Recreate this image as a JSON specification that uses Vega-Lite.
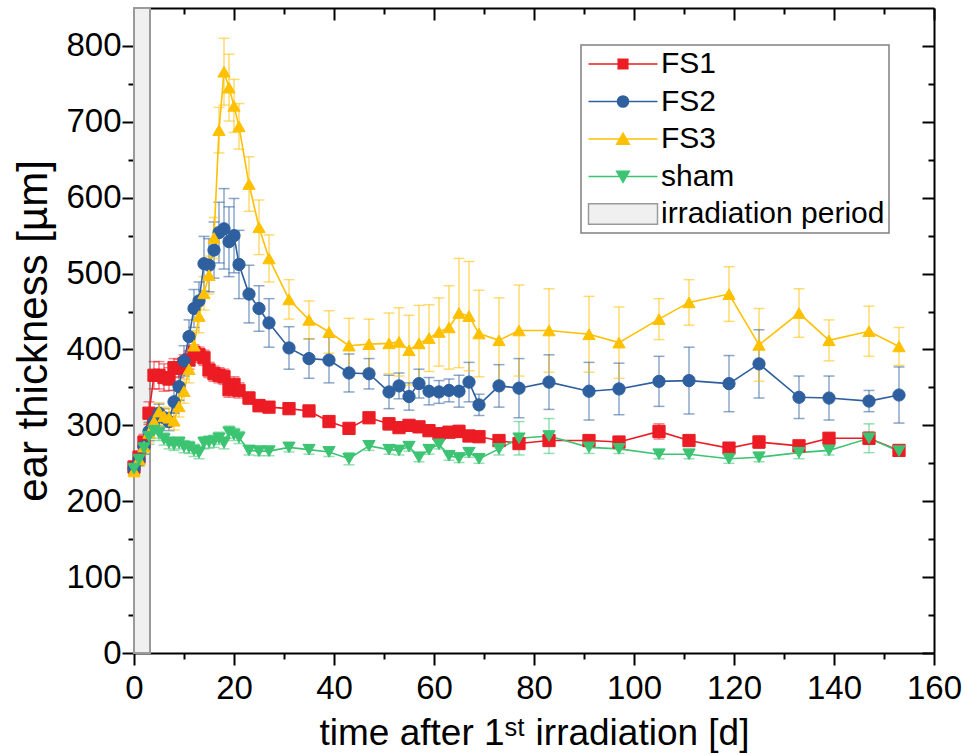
{
  "$schema": "https://vega.github.io/schema/vega-lite/v6.json",
  "autosize": {"type": "none"},
  "width": 800,
  "height": 645,
  "padding": {"left": 134, "top": 8, "right": 31, "bottom": 102},
  "background": "white",
  "config": {
    "view": {"stroke": null},
    "axis": {"domainColor": "black", "domainWidth": 2, "tickColor": "black", "tickWidth": 2, "grid": false,
      "labelFont": "Liberation Sans", "labelFontSize": 33, "labelColor": "black",
      "titleFont": "Liberation Sans", "titleFontSize": 37, "titleFontWeight": "normal", "titleColor": "black"},
    "legend": {"title": null, "orient": "none", "legendX": 447, "legendY": 37, "padding": 4,
      "strokeColor": "#808080", "fillColor": "white",
      "labelFont": "Liberation Sans", "labelFontSize": 30, "labelColor": "black", "labelLimit": 0, "labelOffset": 46,
      "symbolSize": 529, "symbolStrokeWidth": 1.5, "rowPadding": 7.5}
  },
  "datasets": {
    "ear": [
      {"s":"FS1","d":0,"m":245,"lo":237,"hi":253},{"s":"FS1","d":1,"m":258,"lo":250,"hi":266},{"s":"FS1","d":2,"m":278,"lo":268,"hi":288},{"s":"FS1","d":3,"m":316,"lo":301,"hi":331},{"s":"FS1","d":4,"m":366,"lo":348,"hi":384},{"s":"FS1","d":5,"m":366,"lo":348,"hi":384},{"s":"FS1","d":6,"m":363,"lo":345,"hi":381},{"s":"FS1","d":7,"m":361,"lo":346,"hi":376},{"s":"FS1","d":8,"m":376,"lo":364,"hi":388},{"s":"FS1","d":9,"m":375,"lo":363,"hi":387},{"s":"FS1","d":10,"m":381,"lo":369,"hi":393},{"s":"FS1","d":11,"m":386,"lo":374,"hi":398},{"s":"FS1","d":12,"m":396,"lo":386,"hi":406},{"s":"FS1","d":13,"m":393,"lo":383,"hi":403},{"s":"FS1","d":14,"m":389,"lo":379,"hi":399},{"s":"FS1","d":15,"m":373,"lo":363,"hi":383},{"s":"FS1","d":16,"m":368,"lo":358,"hi":378},{"s":"FS1","d":17,"m":366,"lo":356,"hi":376},{"s":"FS1","d":18,"m":364,"lo":354,"hi":374},{"s":"FS1","d":19,"m":347,"lo":337,"hi":357},{"s":"FS1","d":20,"m":354,"lo":344,"hi":364},{"s":"FS1","d":21,"m":346,"lo":336,"hi":356},{"s":"FS1","d":23,"m":336,"lo":328,"hi":344},{"s":"FS1","d":25,"m":326,"lo":318,"hi":334},{"s":"FS1","d":27,"m":324,"lo":318,"hi":330},{"s":"FS1","d":31,"m":322,"lo":316,"hi":328},{"s":"FS1","d":35,"m":319,"lo":313,"hi":325},{"s":"FS1","d":39,"m":305,"lo":299,"hi":311},{"s":"FS1","d":43,"m":296,"lo":290,"hi":302},{"s":"FS1","d":47,"m":310,"lo":304,"hi":316},{"s":"FS1","d":51,"m":302,"lo":294,"hi":310},{"s":"FS1","d":53,"m":297,"lo":291,"hi":303},{"s":"FS1","d":55,"m":300,"lo":294,"hi":306},{"s":"FS1","d":57,"m":298,"lo":292,"hi":304},{"s":"FS1","d":59,"m":293,"lo":287,"hi":299},{"s":"FS1","d":61,"m":289,"lo":283,"hi":295},{"s":"FS1","d":63,"m":291,"lo":285,"hi":297},{"s":"FS1","d":65,"m":292,"lo":284,"hi":300},{"s":"FS1","d":67,"m":286,"lo":280,"hi":292},{"s":"FS1","d":69,"m":285,"lo":279,"hi":291},{"s":"FS1","d":73,"m":280,"lo":274,"hi":286},{"s":"FS1","d":77,"m":276,"lo":270,"hi":282},{"s":"FS1","d":83,"m":280,"lo":274,"hi":286},{"s":"FS1","d":91,"m":280,"lo":274,"hi":286},{"s":"FS1","d":97,"m":278,"lo":272,"hi":284},{"s":"FS1","d":105,"m":292,"lo":282,"hi":302},{"s":"FS1","d":111,"m":280,"lo":274,"hi":286},{"s":"FS1","d":119,"m":270,"lo":264,"hi":276},{"s":"FS1","d":125,"m":278,"lo":270,"hi":286},{"s":"FS1","d":133,"m":273,"lo":267,"hi":279},{"s":"FS1","d":139,"m":283,"lo":277,"hi":289},{"s":"FS1","d":147,"m":283,"lo":275,"hi":291},{"s":"FS1","d":153,"m":267,"lo":261,"hi":273},
      {"s":"FS2","d":0,"m":243,"lo":235,"hi":251},{"s":"FS2","d":1,"m":255,"lo":247,"hi":263},{"s":"FS2","d":2,"m":272,"lo":262,"hi":282},{"s":"FS2","d":3,"m":292,"lo":280,"hi":304},{"s":"FS2","d":4,"m":305,"lo":293,"hi":317},{"s":"FS2","d":5,"m":316,"lo":304,"hi":328},{"s":"FS2","d":6,"m":310,"lo":298,"hi":322},{"s":"FS2","d":7,"m":305,"lo":293,"hi":317},{"s":"FS2","d":8,"m":331,"lo":316,"hi":346},{"s":"FS2","d":9,"m":351,"lo":333,"hi":369},{"s":"FS2","d":10,"m":385,"lo":365,"hi":405},{"s":"FS2","d":11,"m":417,"lo":395,"hi":439},{"s":"FS2","d":12,"m":454,"lo":429,"hi":479},{"s":"FS2","d":13,"m":464,"lo":439,"hi":489},{"s":"FS2","d":14,"m":513,"lo":477,"hi":549},{"s":"FS2","d":15,"m":511,"lo":476,"hi":546},{"s":"FS2","d":16,"m":531,"lo":494,"hi":568},{"s":"FS2","d":17,"m":554,"lo":514,"hi":594},{"s":"FS2","d":18,"m":559,"lo":506,"hi":612},{"s":"FS2","d":19,"m":542,"lo":496,"hi":588},{"s":"FS2","d":20,"m":550,"lo":501,"hi":599},{"s":"FS2","d":21,"m":512,"lo":467,"hi":557},{"s":"FS2","d":23,"m":473,"lo":435,"hi":511},{"s":"FS2","d":25,"m":454,"lo":424,"hi":484},{"s":"FS2","d":27,"m":435,"lo":403,"hi":467},{"s":"FS2","d":31,"m":402,"lo":374,"hi":430},{"s":"FS2","d":35,"m":388,"lo":362,"hi":414},{"s":"FS2","d":39,"m":386,"lo":356,"hi":416},{"s":"FS2","d":43,"m":369,"lo":344,"hi":394},{"s":"FS2","d":47,"m":368,"lo":348,"hi":388},{"s":"FS2","d":51,"m":344,"lo":322,"hi":366},{"s":"FS2","d":53,"m":352,"lo":335,"hi":369},{"s":"FS2","d":55,"m":338,"lo":320,"hi":356},{"s":"FS2","d":57,"m":355,"lo":336,"hi":374},{"s":"FS2","d":59,"m":345,"lo":327,"hi":363},{"s":"FS2","d":61,"m":344,"lo":329,"hi":359},{"s":"FS2","d":63,"m":346,"lo":331,"hi":361},{"s":"FS2","d":65,"m":345,"lo":324,"hi":366},{"s":"FS2","d":67,"m":357,"lo":331,"hi":383},{"s":"FS2","d":69,"m":327,"lo":313,"hi":341},{"s":"FS2","d":73,"m":352,"lo":324,"hi":380},{"s":"FS2","d":77,"m":349,"lo":310,"hi":388},{"s":"FS2","d":83,"m":357,"lo":321,"hi":393},{"s":"FS2","d":91,"m":345,"lo":307,"hi":383},{"s":"FS2","d":97,"m":348,"lo":314,"hi":382},{"s":"FS2","d":105,"m":358,"lo":325,"hi":391},{"s":"FS2","d":111,"m":359,"lo":315,"hi":403},{"s":"FS2","d":119,"m":355,"lo":318,"hi":392},{"s":"FS2","d":125,"m":381,"lo":336,"hi":426},{"s":"FS2","d":133,"m":337,"lo":309,"hi":365},{"s":"FS2","d":139,"m":336,"lo":307,"hi":365},{"s":"FS2","d":147,"m":332,"lo":318,"hi":346},{"s":"FS2","d":153,"m":340,"lo":303,"hi":377},
      {"s":"FS3","d":0,"m":240,"lo":232,"hi":248},{"s":"FS3","d":1,"m":255,"lo":247,"hi":263},{"s":"FS3","d":2,"m":272,"lo":262,"hi":282},{"s":"FS3","d":3,"m":290,"lo":278,"hi":302},{"s":"FS3","d":4,"m":305,"lo":293,"hi":317},{"s":"FS3","d":5,"m":318,"lo":306,"hi":330},{"s":"FS3","d":6,"m":312,"lo":300,"hi":324},{"s":"FS3","d":7,"m":310,"lo":298,"hi":322},{"s":"FS3","d":8,"m":306,"lo":294,"hi":318},{"s":"FS3","d":9,"m":325,"lo":311,"hi":339},{"s":"FS3","d":10,"m":345,"lo":329,"hi":361},{"s":"FS3","d":11,"m":374,"lo":356,"hi":392},{"s":"FS3","d":12,"m":405,"lo":385,"hi":425},{"s":"FS3","d":13,"m":444,"lo":422,"hi":466},{"s":"FS3","d":14,"m":474,"lo":452,"hi":496},{"s":"FS3","d":15,"m":498,"lo":473,"hi":523},{"s":"FS3","d":16,"m":547,"lo":520,"hi":574},{"s":"FS3","d":17,"m":689,"lo":659,"hi":719},{"s":"FS3","d":18,"m":766,"lo":722,"hi":810},{"s":"FS3","d":19,"m":745,"lo":701,"hi":789},{"s":"FS3","d":20,"m":721,"lo":686,"hi":756},{"s":"FS3","d":21,"m":694,"lo":664,"hi":724},{"s":"FS3","d":23,"m":618,"lo":582,"hi":654},{"s":"FS3","d":25,"m":561,"lo":525,"hi":597},{"s":"FS3","d":27,"m":520,"lo":489,"hi":551},{"s":"FS3","d":31,"m":466,"lo":440,"hi":492},{"s":"FS3","d":35,"m":439,"lo":414,"hi":464},{"s":"FS3","d":39,"m":423,"lo":395,"hi":451},{"s":"FS3","d":43,"m":405,"lo":369,"hi":441},{"s":"FS3","d":47,"m":407,"lo":374,"hi":440},{"s":"FS3","d":51,"m":408,"lo":368,"hi":448},{"s":"FS3","d":53,"m":410,"lo":365,"hi":455},{"s":"FS3","d":55,"m":399,"lo":353,"hi":445},{"s":"FS3","d":57,"m":408,"lo":358,"hi":458},{"s":"FS3","d":59,"m":415,"lo":371,"hi":459},{"s":"FS3","d":61,"m":423,"lo":378,"hi":468},{"s":"FS3","d":63,"m":429,"lo":374,"hi":484},{"s":"FS3","d":65,"m":448,"lo":376,"hi":520},{"s":"FS3","d":67,"m":444,"lo":372,"hi":516},{"s":"FS3","d":69,"m":421,"lo":364,"hi":478},{"s":"FS3","d":73,"m":412,"lo":356,"hi":468},{"s":"FS3","d":77,"m":425,"lo":365,"hi":485},{"s":"FS3","d":83,"m":425,"lo":370,"hi":480},{"s":"FS3","d":91,"m":420,"lo":370,"hi":470},{"s":"FS3","d":97,"m":409,"lo":362,"hi":456},{"s":"FS3","d":105,"m":440,"lo":413,"hi":467},{"s":"FS3","d":111,"m":462,"lo":432,"hi":492},{"s":"FS3","d":119,"m":473,"lo":437,"hi":509},{"s":"FS3","d":125,"m":406,"lo":358,"hi":454},{"s":"FS3","d":133,"m":448,"lo":416,"hi":480},{"s":"FS3","d":139,"m":412,"lo":385,"hi":439},{"s":"FS3","d":147,"m":424,"lo":391,"hi":457},{"s":"FS3","d":153,"m":404,"lo":379,"hi":429},
      {"s":"sham","d":0,"m":243,"lo":235,"hi":251},{"s":"sham","d":1,"m":255,"lo":247,"hi":263},{"s":"sham","d":2,"m":270,"lo":262,"hi":278},{"s":"sham","d":3,"m":285,"lo":275,"hi":295},{"s":"sham","d":4,"m":293,"lo":283,"hi":303},{"s":"sham","d":5,"m":290,"lo":280,"hi":300},{"s":"sham","d":6,"m":282,"lo":274,"hi":290},{"s":"sham","d":7,"m":277,"lo":269,"hi":285},{"s":"sham","d":8,"m":275,"lo":267,"hi":283},{"s":"sham","d":9,"m":277,"lo":269,"hi":285},{"s":"sham","d":10,"m":272,"lo":264,"hi":280},{"s":"sham","d":11,"m":271,"lo":263,"hi":279},{"s":"sham","d":12,"m":267,"lo":259,"hi":275},{"s":"sham","d":13,"m":264,"lo":256,"hi":272},{"s":"sham","d":14,"m":277,"lo":269,"hi":285},{"s":"sham","d":15,"m":278,"lo":270,"hi":286},{"s":"sham","d":16,"m":279,"lo":271,"hi":287},{"s":"sham","d":17,"m":283,"lo":275,"hi":291},{"s":"sham","d":18,"m":277,"lo":269,"hi":285},{"s":"sham","d":19,"m":291,"lo":283,"hi":299},{"s":"sham","d":20,"m":288,"lo":280,"hi":296},{"s":"sham","d":21,"m":284,"lo":276,"hi":292},{"s":"sham","d":23,"m":267,"lo":261,"hi":273},{"s":"sham","d":25,"m":266,"lo":260,"hi":272},{"s":"sham","d":27,"m":266,"lo":260,"hi":272},{"s":"sham","d":31,"m":271,"lo":265,"hi":277},{"s":"sham","d":35,"m":268,"lo":262,"hi":274},{"s":"sham","d":39,"m":265,"lo":259,"hi":271},{"s":"sham","d":43,"m":256,"lo":248,"hi":264},{"s":"sham","d":47,"m":273,"lo":267,"hi":279},{"s":"sham","d":51,"m":268,"lo":262,"hi":274},{"s":"sham","d":53,"m":267,"lo":261,"hi":273},{"s":"sham","d":55,"m":272,"lo":266,"hi":278},{"s":"sham","d":57,"m":258,"lo":252,"hi":264},{"s":"sham","d":59,"m":268,"lo":262,"hi":274},{"s":"sham","d":61,"m":275,"lo":269,"hi":281},{"s":"sham","d":63,"m":260,"lo":254,"hi":266},{"s":"sham","d":65,"m":257,"lo":251,"hi":263},{"s":"sham","d":67,"m":264,"lo":258,"hi":270},{"s":"sham","d":69,"m":256,"lo":250,"hi":262},{"s":"sham","d":73,"m":269,"lo":261,"hi":277},{"s":"sham","d":77,"m":283,"lo":261,"hi":305},{"s":"sham","d":83,"m":286,"lo":263,"hi":309},{"s":"sham","d":91,"m":271,"lo":263,"hi":279},{"s":"sham","d":97,"m":269,"lo":263,"hi":275},{"s":"sham","d":105,"m":262,"lo":256,"hi":268},{"s":"sham","d":111,"m":262,"lo":256,"hi":268},{"s":"sham","d":119,"m":256,"lo":250,"hi":262},{"s":"sham","d":125,"m":258,"lo":252,"hi":264},{"s":"sham","d":133,"m":264,"lo":256,"hi":272},{"s":"sham","d":139,"m":267,"lo":261,"hi":273},{"s":"sham","d":147,"m":283,"lo":264,"hi":302},{"s":"sham","d":153,"m":266,"lo":260,"hi":272}
    ],
    "period": [{"s": "irradiation period", "start": 0, "end": 3.2}]
  },
  "resolve": {"axis": {"x": "independent", "y": "independent"}},
  "layer": [
    {
      "data": {"name": "period"},
      "mark": {"type": "rect", "strokeWidth": 2},
      "encoding": {
        "x": {"field": "start", "type": "quantitative", "scale": {"domain": [0, 160], "nice": false},
          "axis": {"orient": "top", "values": [0,20,40,60,80,100,120,140,160], "tickSize": -12, "labels": false, "title": null}},
        "x2": {"field": "end"},
        "fill": {"field": "s", "type": "nominal",
          "scale": {"domain": ["FS1","FS2","FS3","sham","irradiation period"], "range": ["#ec1c24","#2e5f9e","#ffc000","#3cc472","#f0f0f0"]},
          "legend": {
            "encode": {
              "legend": {"update": {"strokeWidth": {"value": 1.5}}},
              "symbols": {"update": {
                "shape": {"signal": "datum.value === 'FS1' ? 'M-1,0H5M1.58,-0.42H2.42V0.42H1.58Z' : datum.value === 'FS2' ? 'M-1,0H5M1.52,0A0.48,0.48 0 1,0 2.48,0A0.48,0.48 0 1,0 1.52,0Z' : datum.value === 'FS3' ? 'M-1,0H5M2,-0.5L2.55,0.45H1.45Z' : datum.value === 'sham' ? 'M-1,0H5M1.45,-0.45H2.55L2,0.5Z' : 'M-1,-0.9H5V0.9H-1Z'"},
                "size": {"value": 529},
                "fill": {"scale": "fill", "field": "value"},
                "stroke": {"scale": "stroke", "field": "value"},
                "strokeWidth": {"value": 1.5},
                "opacity": {"value": 1}
              }}
            }}},
        "stroke": {"field": "s", "type": "nominal",
          "scale": {"domain": ["FS1","FS2","FS3","sham","irradiation period"], "range": ["#ec1c24","#2e5f9e","#ffc000","#3cc472","#9a9a9a"]},
          "legend": {
            "encode": {
              "legend": {"update": {"strokeWidth": {"value": 1.5}}},
              "symbols": {"update": {
                "shape": {"signal": "datum.value === 'FS1' ? 'M-1,0H5M1.58,-0.42H2.42V0.42H1.58Z' : datum.value === 'FS2' ? 'M-1,0H5M1.52,0A0.48,0.48 0 1,0 2.48,0A0.48,0.48 0 1,0 1.52,0Z' : datum.value === 'FS3' ? 'M-1,0H5M2,-0.5L2.55,0.45H1.45Z' : datum.value === 'sham' ? 'M-1,0H5M1.45,-0.45H2.55L2,0.5Z' : 'M-1,-0.9H5V0.9H-1Z'"},
                "size": {"value": 529},
                "fill": {"scale": "fill", "field": "value"},
                "stroke": {"scale": "stroke", "field": "value"},
                "strokeWidth": {"value": 1.5},
                "opacity": {"value": 1}
              }}
            }}}
      }
    },
    {
      "data": {"name": "ear"},
      "mark": {"type": "rule", "strokeWidth": 1.5, "opacity": 0.55},
      "encoding": {
        "x": {"field": "d", "type": "quantitative", "scale": {"domain": [0, 160], "nice": false},
          "axis": {"orient": "bottom", "values": [10,30,50,70,90,110,130,150], "tickSize": 6, "labels": false, "domain": false, "title": null}},
        "y": {"field": "lo", "type": "quantitative", "scale": {"domain": [0, 850], "nice": false},
          "axis": {"orient": "left", "values": [50,150,250,350,450,550,650,750], "tickSize": 6, "labels": false, "domain": false, "title": null}},
        "y2": {"field": "hi"},
        "stroke": {"field": "s", "type": "nominal",
          "scale": {"domain": ["FS1","FS2","FS3","sham","irradiation period"], "range": ["#ec1c24","#2e5f9e","#ffc000","#3cc472","#9a9a9a"]}}
      }
    },
    {
      "data": {"name": "ear"},
      "mark": {"type": "tick", "orient": "horizontal", "size": 11, "thickness": 1.5, "opacity": 0.55},
      "encoding": {
        "x": {"field": "d", "type": "quantitative", "scale": {"domain": [0, 160], "nice": false},
          "axis": {"orient": "top", "values": [10,30,50,70,90,110,130,150], "tickSize": -6, "labels": false, "domain": false, "title": null}},
        "y": {"field": "hi", "type": "quantitative", "scale": {"domain": [0, 850], "nice": false},
          "axis": {"orient": "right", "values": [50,150,250,350,450,550,650,750], "tickSize": -6, "labels": false, "domain": false, "title": null}},
        "fill": {"field": "s", "type": "nominal",
          "scale": {"domain": ["FS1","FS2","FS3","sham","irradiation period"], "range": ["#ec1c24","#2e5f9e","#ffc000","#3cc472","#f0f0f0"]}}
      }
    },
    {
      "data": {"name": "ear"},
      "mark": {"type": "tick", "orient": "horizontal", "size": 11, "thickness": 1.5, "opacity": 0.55},
      "encoding": {
        "x": {"field": "d", "type": "quantitative", "scale": {"domain": [0, 160], "nice": false}, "axis": null},
        "y": {"field": "lo", "type": "quantitative", "scale": {"domain": [0, 850], "nice": false}, "axis": null},
        "fill": {"field": "s", "type": "nominal",
          "scale": {"domain": ["FS1","FS2","FS3","sham","irradiation period"], "range": ["#ec1c24","#2e5f9e","#ffc000","#3cc472","#f0f0f0"]}}
      }
    },
    {
      "data": {"name": "ear"},
      "mark": {"type": "line", "strokeWidth": 1.6},
      "encoding": {
        "x": {"field": "d", "type": "quantitative", "scale": {"domain": [0, 160], "nice": false}, "axis": null},
        "y": {"field": "m", "type": "quantitative", "scale": {"domain": [0, 850], "nice": false},
          "axis": {"orient": "right", "values": [0,100,200,300,400,500,600,700,800], "tickSize": -12, "labels": false, "title": null}},
        "stroke": {"field": "s", "type": "nominal",
          "scale": {"domain": ["FS1","FS2","FS3","sham","irradiation period"], "range": ["#ec1c24","#2e5f9e","#ffc000","#3cc472","#9a9a9a"]}}
      }
    },
    {
      "data": {"name": "ear"},
      "mark": {"type": "point", "filled": true, "size": 150, "strokeWidth": 1, "opacity": 1},
      "encoding": {
        "x": {"field": "d", "type": "quantitative", "scale": {"domain": [0, 160], "nice": false},
          "axis": {"orient": "bottom", "values": [0,20,40,60,80,100,120,140,160], "tickSize": 12, "labelPadding": 7, "labelFlush": false,
            "title": "time after 1ˢᵗ irradiation [d]", "titlePadding": 10}},
        "y": {"field": "m", "type": "quantitative", "scale": {"domain": [0, 850], "nice": false},
          "axis": {"orient": "left", "values": [0,100,200,300,400,500,600,700,800], "tickSize": 12, "labelPadding": 1, "labelFlush": false,
            "title": "ear thickness [µm]", "titleFontSize": 42, "titlePadding": 10}},
        "shape": {"field": "s", "type": "nominal", "legend": null,
          "scale": {"domain": ["FS1","FS2","FS3","sham"], "range": ["square","circle","triangle-up","triangle-down"]}},
        "fill": {"field": "s", "type": "nominal",
          "scale": {"domain": ["FS1","FS2","FS3","sham","irradiation period"], "range": ["#ec1c24","#2e5f9e","#ffc000","#3cc472","#f0f0f0"]}},
        "stroke": {"field": "s", "type": "nominal",
          "scale": {"domain": ["FS1","FS2","FS3","sham","irradiation period"], "range": ["#ec1c24","#2e5f9e","#ffc000","#3cc472","#9a9a9a"]}}
      }
    }
  ]
}
